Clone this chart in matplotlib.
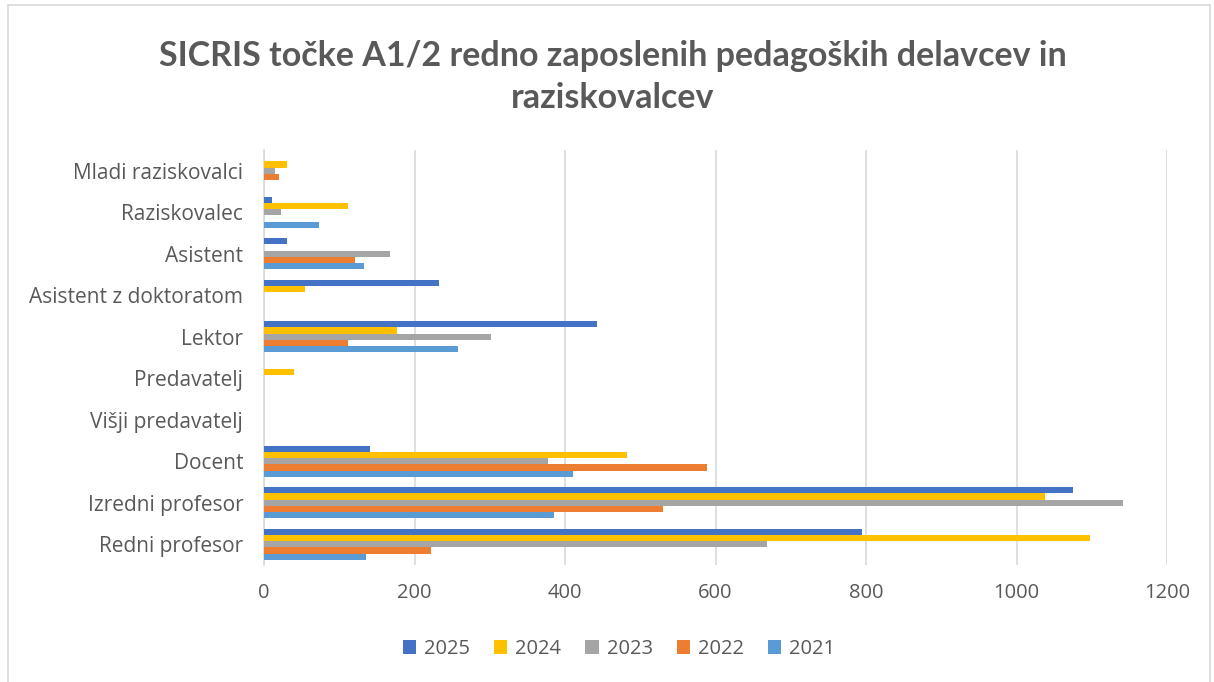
import matplotlib
matplotlib.use("Agg")
import matplotlib.pyplot as plt
import numpy as np
from matplotlib.patches import Rectangle

# podatki (od zgoraj navzdol kot na grafu)
categories = ["Mladi raziskovalci", "Raziskovalec", "Asistent", "Asistent z doktoratom",
              "Lektor", "Predavatelj", "Višji predavatelj", "Docent",
              "Izredni profesor", "Redni profesor"]
years = ["2025", "2024", "2023", "2022", "2021"]
v2025 = [0, 10, 31, 232, 443, 0, 0, 141, 1075, 795]
v2024 = [30, 112, 0, 54, 177, 40, 0, 482, 1038, 1097]
v2023 = [15, 23, 168, 0, 301, 0, 0, 378, 1141, 668]
v2022 = [20, 0, 121, 0, 111, 0, 0, 589, 530, 222]
v2021 = [0, 73, 133, 0, 258, 0, 0, 411, 385, 135]
series = [v2025, v2024, v2023, v2022, v2021]
colors = ["#4472C4", "#FFC000", "#A5A5A5", "#ED7D31", "#5B9BD5"]

txt = "#595959"
fig = plt.figure(figsize=(12.14, 6.82), dpi=100)
fig.patches.append(Rectangle((0.007, -0.01), 0.99, 1.003, transform=fig.transFigure,
                             fill=False, edgecolor="#D9D9D9", linewidth=1.2))
ax = fig.add_axes([0.2175, 0.1716, 0.7438, 0.6084])

y = np.arange(len(categories))
h = 0.15
for i, (vals, c, yr) in enumerate(zip(series, colors, years)):
    ax.barh(y + (i - 2) * h, vals, height=h, color=c, label=yr, zorder=3)

ax.set_ylim(len(categories) - 0.5, -0.5)
ax.set_xlim(0, 1200)
ax.set_xticks(range(0, 1201, 200))
ax.set_yticks(y)
ax.set_yticklabels(categories, fontsize=15, color=txt, family="Open Sans")
for lab in ax.get_xticklabels():
    lab.set_fontsize(14.5)
    lab.set_color(txt)
    lab.set_family("Open Sans")
ax.tick_params(length=0)
ax.tick_params(axis="y", pad=15)
ax.tick_params(axis="x", pad=13)
ax.grid(axis="x", color="#D9D9D9", linewidth=1.2, zorder=0)
for s in ["top", "right", "bottom"]:
    ax.spines[s].set_visible(False)
ax.spines["left"].set_color("#D9D9D9")
ax.spines["left"].set_linewidth(1.2)

fig.text(0.505, 0.887, "SICRIS točke A1/2 redno zaposlenih pedagoških delavcev in\nraziskovalcev",
         ha="center", va="center", fontsize=24.5, fontweight="bold", color=txt,
         family="Lato", linespacing=1.4)

leg = fig.legend(loc="center", bbox_to_anchor=(0.51, 0.048), ncol=5, frameon=False,
                 prop={"family": "Open Sans", "size": 14.5}, handlelength=0.65,
                 handleheight=0.65, handletextpad=0.4, columnspacing=1.2)
for t in leg.get_texts():
    t.set_color(txt)

fig.savefig("out.png", dpi=100)
